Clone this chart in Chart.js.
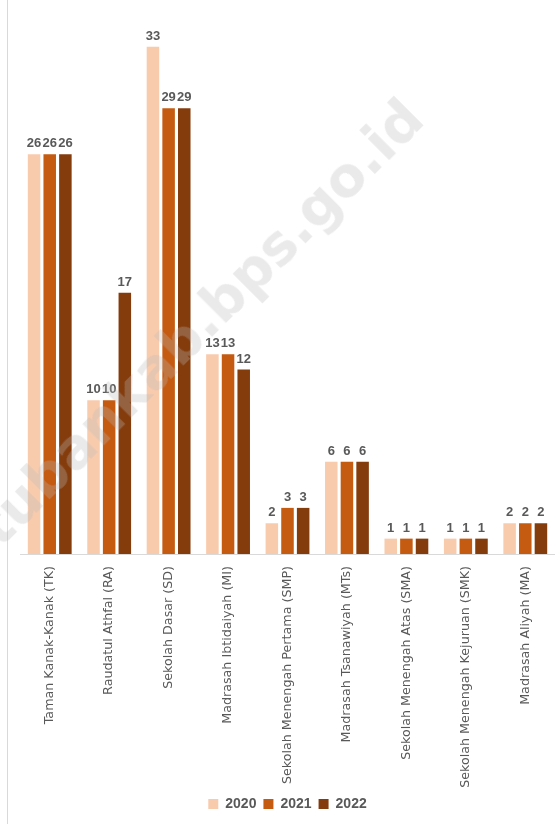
<!DOCTYPE html>
<html>
<head>
<meta charset="utf-8">
<script src="https://cdn.jsdelivr.net/npm/chart.js@4.4.1/dist/chart.umd.min.js"></script>
<style>
    html, body { margin: 0; padding: 0; background: #fff; }
    #wrap { position: relative; width: 555px; height: 824px; overflow: hidden; }
    #edge { position: absolute; left: 7px; top: 0; width: 1px; height: 824px; background: #d9d9d9; }
    #mark {
        position: absolute; left: 200px; top: 322px;
        transform: translate(-50%, -50%) rotate(-45deg);
        font: bold 55px "DejaVu Sans", sans-serif;
        color: rgba(185, 185, 185, 0.3);
        white-space: nowrap; pointer-events: none; z-index: 2;
    }
</style>
</head>
<body>
<div id="wrap">
    <div id="edge"></div>
    <canvas id="eduChart" width="555" height="824"></canvas>
    <div id="mark">tubankab.bps.go.id</div>
</div>
<script>
// Jumlah sekolah menurut jenjang
const categories = [
    'Taman Kanak-Kanak (TK)',
    'Raudatul Athfal (RA)',
    'Sekolah Dasar (SD)',
    'Madrasah Ibtidaiyah (MI)',
    'Sekolah Menengah Pertama (SMP)',
    'Madrasah Tsanawiyah (MTs)',
    'Sekolah Menengah Atas (SMA)',
    'Sekolah Menengah Kejuruan (SMK)',
    'Madrasah Aliyah (MA)'
];
const years = ['2020', '2021', '2022'];
const values2020 = [26, 10, 33, 13, 2, 6, 1, 1, 2];
const values2021 = [26, 10, 29, 13, 3, 6, 1, 1, 2];
const values2022 = [26, 17, 29, 12, 3, 6, 1, 1, 2];
const colors = ['#F8CBAD', '#C55A11', '#843C0C'];

// draws the value above every bar
const valueLabels = {
    id: 'valueLabels',
    afterDatasetsDraw(chart) {
        const ctx = chart.ctx;
        ctx.save();
        ctx.font = 'bold 13px "Liberation Sans", sans-serif';
        ctx.fillStyle = '#595959';
        ctx.textAlign = 'center';
        ctx.textBaseline = 'bottom';
        chart.data.datasets.forEach((ds, i) => {
            chart.getDatasetMeta(i).data.forEach((bar, j) => {
                ctx.fillText(ds.data[j], bar.x, bar.y - 4);
            });
        });
        ctx.restore();
    }
};

var ctx = document.getElementById('eduChart').getContext('2d');
var eduChart = new Chart(ctx, {
    type: 'bar',
    data: {
        labels: categories,
        datasets: [
            { label: years[0], data: values2020, backgroundColor: colors[0] },
            { label: years[1], data: values2021, backgroundColor: colors[1] },
            { label: years[2], data: values2022, backgroundColor: colors[2] }
        ]
    },
    options: {
        responsive: false,
        animation: false,
        devicePixelRatio: 1,
        layout: { padding: { top: 16, left: 20, right: 0, bottom: 3 } },
        datasets: {
            bar: { barPercentage: 0.8, categoryPercentage: 0.79 }
        },
        scales: {
            x: {
                grid: { display: false },
                border: { display: true, color: '#d9d9d9', width: 1 },
                ticks: {
                    color: '#595959',
                    font: { family: '"DejaVu Sans", sans-serif', size: 12.7 },
                    minRotation: 90,
                    maxRotation: 90,
                    padding: 4
                },
                afterFit: scale => { scale.height = 236; }
            },
            y: { display: false, min: 0, max: 35 }
        },
        plugins: {
            legend: {
                position: 'bottom',
                labels: {
                    color: '#595959',
                    font: { family: '"Liberation Sans", sans-serif', size: 14, weight: 'bold' },
                    boxWidth: 10,
                    boxHeight: 10,
                    padding: 7
                }
            },
            tooltip: { enabled: false }
        }
    },
    plugins: [valueLabels]
});
</script>
</body>
</html>
